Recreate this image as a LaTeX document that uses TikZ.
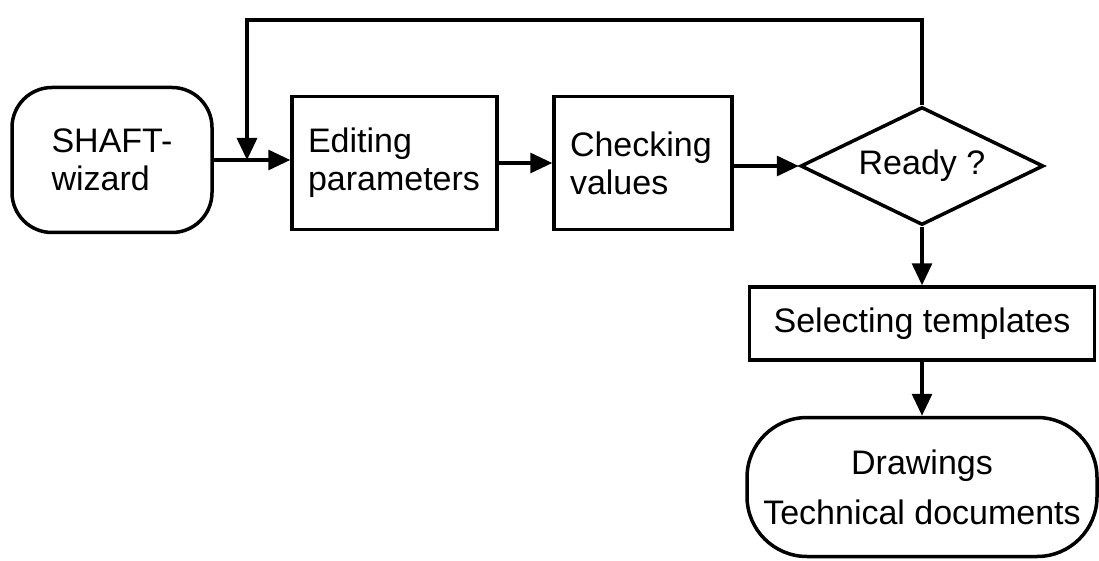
\documentclass[tikz,border=0pt]{standalone}
\usepackage{fontspec}
\setmainfont{Liberation Sans}
\usetikzlibrary{arrows.meta,shapes.geometric}

\tikzset{
  box/.style={draw, line width=3.5pt, inner xsep=16pt, minimum height=133pt, align=left},
  term/.style={draw, line width=3.5pt, rounded corners=#1},
  flow/.style={line width=3.2pt, -{Triangle[length=22pt,width=20pt]}},
}

\begin{document}
\begin{tikzpicture}[x=1pt,y=-1pt,font=\fontsize{34}{38}\selectfont]
\useasboundingbox (0,0) rectangle (1099,561);

% main row
\node[term=40pt, minimum width=200pt, minimum height=145pt, align=left] (wizard) at (112,160) {SHAFT-\\wizard};
\node[box, text width=173pt] (edit) at (394.5,163) {Editing\\parameters};
\node[box, text width=146pt] (check) at (643,163) {Checking\\values};
\node[draw, diamond, shape aspect=2, line width=3.5pt, inner sep=0pt,
      minimum width=243pt, minimum height=118pt] (ready) at (922,166) {Ready ?};

% output column
\node[draw, line width=3.5pt, minimum width=345pt, minimum height=73pt] (select) at (922,323.5) {Selecting templates};
\node[term=60pt, minimum width=350pt, minimum height=139pt, align=center,
      font=\fontsize{34}{50}\selectfont] (docs) at (922,487) {Drawings\\Technical documents};

\coordinate (join) at (247,160);
\coordinate (loop) at (247,20);

\draw[flow] (wizard) -- (edit.west |- wizard);
\draw[flow] (edit) -- (check);
\draw[flow] (check.east |- ready) -- (ready);
\draw[flow] (ready) -- (select);
\draw[flow] (select) -- (docs);

% back to editing if not ready
\draw[flow] (ready.north) |- (loop) -- (join);

\end{tikzpicture}
\end{document}
